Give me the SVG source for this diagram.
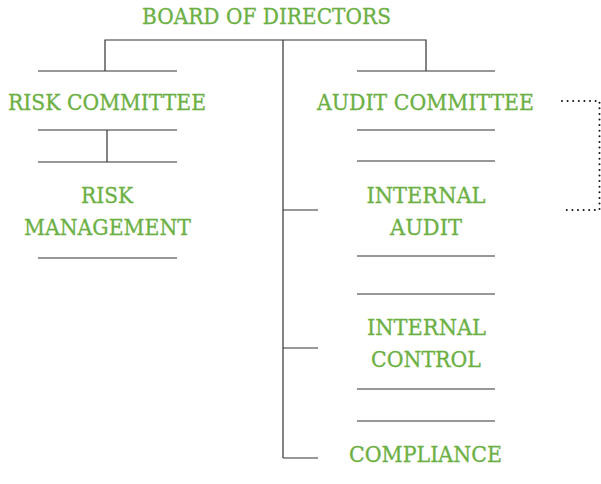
<svg xmlns="http://www.w3.org/2000/svg" width="601" height="484" viewBox="0 0 601 484">
<style>
.t{font-family:"DejaVu Serif","Liberation Serif",serif;font-size:22px;fill:#6cb044;stroke:#6cb044;stroke-width:0.3;text-anchor:middle}
.l{stroke:#333;stroke-width:1.2;fill:none}
.d{stroke:#111;stroke-width:2;fill:none;stroke-dasharray:0 5.6;stroke-linecap:round}
</style>
<rect width="601" height="484" fill="#fff"/>
<g id="connectors">
<path class="l" d="M105 71V40H426V71M283 40V458M107 130V162M283 210H318M283 348H318M283 458H318"/>
<path class="d" d="M562 101H599.5V210H562"/>
</g>
<g id="board"><text class="t" x="266.5" y="23.5" textLength="249" lengthAdjust="spacingAndGlyphs">BOARD OF DIRECTORS</text></g>
<g id="risk-committee">
<path class="l" d="M38 71H177M38 130H177"/>
<text class="t" x="107" y="110" textLength="198" lengthAdjust="spacingAndGlyphs">RISK COMMITTEE</text>
</g>
<g id="audit-committee">
<path class="l" d="M357 71H495M357 130H495"/>
<text class="t" x="425.5" y="110" textLength="217" lengthAdjust="spacingAndGlyphs">AUDIT COMMITTEE</text>
</g>
<g id="risk-management">
<path class="l" d="M38 162H177M38 258H177"/>
<text class="t" x="107" y="203" textLength="52" lengthAdjust="spacingAndGlyphs">RISK</text>
<text class="t" x="107.5" y="235" textLength="167" lengthAdjust="spacingAndGlyphs">MANAGEMENT</text>
</g>
<g id="internal-audit">
<path class="l" d="M357 161H495M357 256H495"/>
<text class="t" x="426" y="203" textLength="119" lengthAdjust="spacingAndGlyphs">INTERNAL</text>
<text class="t" x="426" y="235" textLength="72" lengthAdjust="spacingAndGlyphs">AUDIT</text>
</g>
<g id="internal-control">
<path class="l" d="M357 294H495M357 389H495"/>
<text class="t" x="426.5" y="334.5" textLength="119" lengthAdjust="spacingAndGlyphs">INTERNAL</text>
<text class="t" x="426" y="366.5" textLength="110" lengthAdjust="spacingAndGlyphs">CONTROL</text>
</g>
<g id="compliance">
<path class="l" d="M357 421H495"/>
<text class="t" x="425.5" y="462" textLength="153" lengthAdjust="spacingAndGlyphs">COMPLIANCE</text>
</g>
</svg>
